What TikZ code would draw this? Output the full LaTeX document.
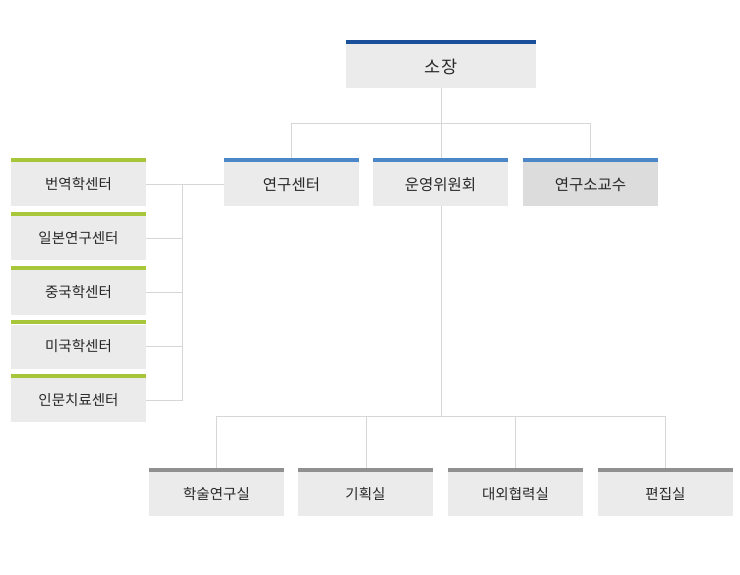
\documentclass[tikz,border=0pt]{standalone}
\usepackage{fontspec}
\setmainfont{Noto Sans CJK KR}
\definecolor{orgnavy}{RGB}{26,79,154}
\definecolor{orgblue}{RGB}{74,134,200}
\definecolor{orggreen}{RGB}{168,198,58}
\definecolor{orggray}{RGB}{144,144,144}
\definecolor{orgline}{RGB}{214,214,214}
\definecolor{orgfill}{RGB}{235,235,235}
\definecolor{orgdark}{RGB}{220,220,220}
\definecolor{orgtext}{RGB}{40,40,40}

\begin{document}
\begin{tikzpicture}[x=1pt, y=-1pt,
      card/.style={fill=orgfill, minimum width=135pt, minimum height=44pt, inner sep=0pt, text=orgtext, font=\fontsize{14.5}{16}\selectfont},
      link/.style={draw=orgline, line width=1pt}
    ]
      \useasboundingbox (0,0) rectangle (740,575);

      % links behind the cards
      \draw[link] (441,88) -- (441,416);
      \draw[link] (291,158) |- (590,124) -- (590,158);
      \draw[link] (216,468) |- (665,416) -- (665,468);
      \draw[link] (366,416) -- (366,468);
      \draw[link] (515,416) -- (515,468);

      % Top: director
      \node[card, minimum width=190pt, font=\fontsize{17.5}{19}\selectfont] (head) at (441,66.5) {소장};

      % Row 2: centre, committee, professors
      \node[card, font=\fontsize{15.5}{17}\selectfont] (center) at (291.5,184.5) {연구센터};
      \node[card, font=\fontsize{15.5}{17}\selectfont] (board) at (440.5,184.5) {운영위원회};
      \node[card, fill=orgdark, font=\fontsize{15.5}{17}\selectfont] (prof) at (590.5,184.5) {연구소교수};

      % Left column: research centres
      \node[card] (trans) at (78.5,184.5) {번역학센터};
      \node[card] (japan) at (78.5,238.5) {일본연구센터};
      \node[card] (china) at (78.5,292.5) {중국학센터};
      \node[card] (usa) at (78.5,346.5) {미국학센터};
      \node[card] (human) at (78.5,400) {인문치료센터};

      % Bottom row: offices
      \node[card] (acad) at (216.5,494) {학술연구실};
      \node[card] (plan) at (365.5,494) {기획실};
      \node[card] (extern) at (515.5,494) {대외협력실};
      \node[card] (edit) at (665.5,494) {편집실};

      % centre links
      \draw[link] (center.west) -- (trans.east);
      \draw[link] (182,184.5) |- (human.east);
      \foreach \n in {japan,china,usa}
        \draw[link] (\n.east) -- (182,0 |- \n.east);

      % colour bars
      \fill[orgnavy] (head.north west) rectangle ([yshift=4pt]head.north east);
      \foreach \n in {center,board,prof}
        \fill[orgblue] (\n.north west) rectangle ([yshift=4pt]\n.north east);
      \foreach \n in {trans,japan,china,usa,human}
        \fill[orggreen] (\n.north west) rectangle ([yshift=4pt]\n.north east);
      \foreach \n in {acad,plan,extern,edit}
        \fill[orggray] (\n.north west) rectangle ([yshift=4pt]\n.north east);
    \end{tikzpicture}
\end{document}
